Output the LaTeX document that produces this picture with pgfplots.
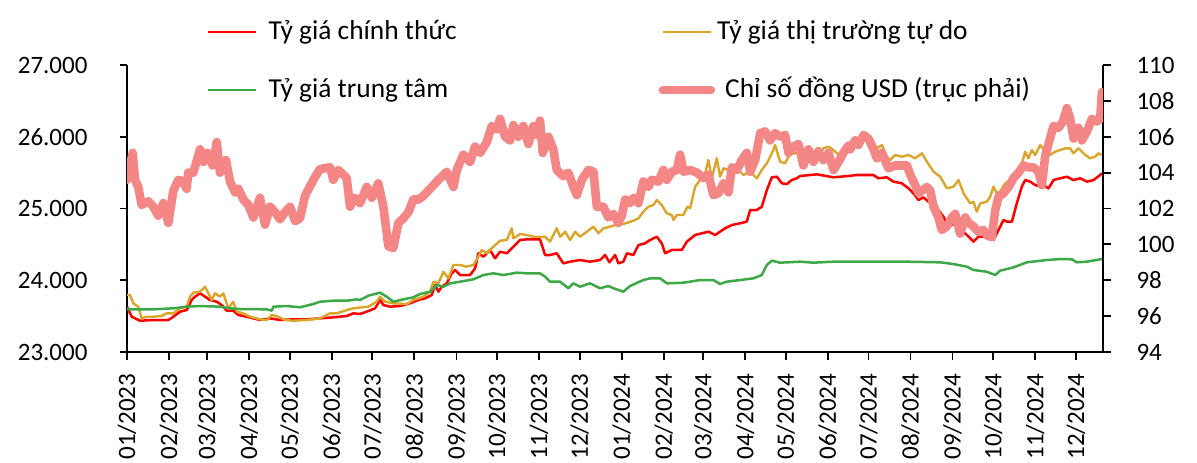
\documentclass[border=0pt]{standalone}
\usepackage{fontspec}
\setmainfont{Carlito}
\usepackage{pgfplots}
\pgfplotsset{compat=1.18}
\definecolor{cRed}{RGB}{255,0,0}
\definecolor{cGold}{RGB}{218,165,40}
\definecolor{cGreen}{RGB}{60,168,70}
\definecolor{cPink}{RGB}{244,134,134}
\begin{document}
\begin{tikzpicture}
\pgfplotsset{
  base/.style={scale only axis, width=488pt, height=143.5pt, xmin=0, xmax=720,
    tick align=outside, major tick length=3.75pt,
    every tick/.style={black, line width=0.9pt},
    axis line style={black, line width=1pt},
    tick label style={font=\fontsize{12.5}{15}\selectfont, inner sep=0pt},
    scaled y ticks=false,
  },
}
\begin{axis}[base, name=main, ymin=23000, ymax=27000,
  axis x line*=bottom, axis y line*=left,
  xtick={0,31,59,90,120,151,181,212,243,273,304,334,365,396,425,456,486,517,547,578,609,639,670,700},
  xticklabels={01/2023,02/2023,03/2023,04/2023,05/2023,06/2023,07/2023,08/2023,09/2023,10/2023,11/2023,12/2023,01/2024,02/2024,03/2024,04/2024,05/2024,06/2024,07/2024,08/2024,09/2024,10/2024,11/2024,12/2024},
  xticklabel style={rotate=90, anchor=east},
  xticklabel shift=7pt,
  ytick={23000,24000,25000,26000,27000},
  yticklabels={23.000,24.000,25.000,26.000,27.000},
  yticklabel shift=15.8pt,
  ]
\addplot[cRed, line width=1.25pt, line join=round] coordinates {
(0,23631) (3.5,23492) (9.6,23436) (19.4,23446) (30.5,23446) (34.2,23492) (39.1,23562) (44,23585) (47.7,23725) (50.2,23771) (53.9,23818) (57.6,23771) (61.2,23725) (66.2,23701) (69.9,23655) (73.6,23576) (78.4,23576) (82.1,23516) (88.3,23492) (98.1,23446) (105.5,23469) (112.9,23446) (122.7,23456) (132.6,23456) (142.4,23469) (152.2,23483) (162.1,23502) (167,23539) (171.9,23530) (178,23570) (183,23609) (186.7,23725) (189.1,23655) (194.1,23632) (201.4,23641) (208.8,23679) (214.9,23725) (219.9,23748) (224.8,23794) (227.3,23934) (229.7,23841) (232.2,23910) (235.9,23957) (239.6,24097) (242,24143) (245.7,24073) (253.1,24073) (256.8,24167) (259.2,24376) (262.9,24329) (267.8,24422) (271.5,24306) (275.2,24398) (280.2,24376) (285,24468) (290,24561) (294.9,24570) (304.7,24570) (308.4,24352) (312.1,24352) (317,24376) (321.9,24236) (326.9,24259) (334.2,24282) (341.6,24259) (349,24282) (352.7,24352) (355.9,24250) (360.1,24352) (362.5,24236) (366.2,24259) (368.7,24376) (373.6,24352) (377.3,24491) (382.2,24515) (385.9,24561) (390.8,24607) (394.5,24515) (397,24376) (401.9,24422) (409.3,24422) (413,24538) (419.1,24631) (424,24654) (428.9,24677) (433.9,24631) (437.5,24677) (441.2,24724) (446.2,24770) (452.3,24794) (457.2,24817) (459.7,24979) (464.6,24979) (468.3,25025) (472,25258) (475.7,25435) (479.4,25443) (483.1,25351) (486.8,25341) (490.4,25397) (494.1,25421) (496.6,25453) (508.9,25476) (521.1,25435) (526.1,25443) (532.2,25453) (538.4,25467) (550.6,25467) (554.3,25421) (560.5,25435) (565.4,25374) (571.6,25351) (576.5,25281) (580.2,25211) (583.9,25118) (587.5,25156) (591.2,25095) (594.9,25118) (598.6,24979) (602.3,24886) (606,24746) (610.9,24794) (614.6,24654) (618.3,24654) (622,24585) (624.4,24538) (628.1,24607) (631.8,24607) (635.5,24631) (639.2,24561) (642.9,24700) (646.6,24840) (649.1,24817) (652.8,24817) (656.4,25072) (660.1,25304) (662.6,25397) (666.3,25374) (670,25328) (673.7,25304) (676.1,25328) (679.8,25281) (683.5,25397) (688.4,25421) (693.4,25443) (698.2,25397) (703.2,25421) (708.1,25374) (713,25397) (717.9,25467) (719.2,25490)
};
\addplot[cGold, line width=1.2pt, line join=round] coordinates {
(0,23794) (2.2,23794) (4.6,23679) (8.3,23632) (10.8,23469) (14.5,23492) (19.4,23492) (25.6,23502) (29.3,23539) (34.2,23539) (39.1,23609) (44,23632) (46.5,23771) (48.9,23827) (53.9,23841) (57.6,23910) (60,23818) (62.5,23725) (64.9,23818) (68.6,23771) (71.1,23818) (74.7,23609) (78.4,23701) (80.9,23562) (85.8,23539) (90.8,23492) (98.1,23456) (103.1,23446) (106.8,23516) (111.6,23492) (116.6,23446) (122.7,23436) (132.6,23446) (142.4,23469) (149.8,23539) (154.7,23539) (162.1,23585) (167,23609) (171.9,23620) (178,23632) (184.2,23701) (186.7,23771) (190.4,23701) (196.5,23679) (206.4,23669) (211.2,23725) (218.6,23771) (223.6,23841) (226,23980) (229.7,23957) (233.4,24119) (237.1,24027) (240.8,24213) (245.7,24213) (250.6,24189) (255.5,24213) (259.2,24329) (261.7,24422) (265.4,24376) (270.3,24468) (275.2,24551) (280.2,24561) (283.8,24724) (285,24584) (290,24645) (294.9,24631) (299.8,24607) (308.4,24607) (312.1,24538) (317,24724) (319.5,24607) (323.2,24677) (326.9,24561) (330.6,24677) (334.2,24607) (339.2,24677) (344.1,24747) (347.8,24654) (351.4,24724) (355.1,24740) (360.1,24770) (366.2,24784) (373.6,24830) (377.3,24863) (380.9,24956) (384.6,25025) (388.3,25049) (390.8,25118) (394.5,25049) (398.2,24933) (401.9,24909) (403.1,24840) (405.6,24909) (410.5,24909) (413.4,25025) (415.4,25003) (419.1,25304) (422.8,25397) (426.5,25490) (428.9,25676) (431.4,25421) (435.1,25700) (437.5,25443) (440,25560) (443.7,25537) (447.4,25560) (452.3,25513) (454.8,25467) (459.7,25513) (464.6,25421) (468.3,25537) (472,25630) (475.7,25769) (478.1,25885) (481.8,25652) (485.5,25630) (489.2,25769) (494.1,25769) (499,25746) (502.7,25815) (506.4,25700) (510.1,25769) (513.8,25839) (517.5,25862) (521.1,25815) (525,25750) (528.5,25769) (533.5,25909) (539.6,25932) (545.8,26002) (549.5,25955) (553.2,25839) (556.9,25885) (560.5,25722) (563,25676) (566.7,25746) (571.6,25722) (576.5,25746) (581.4,25700) (586.4,25769) (590.1,25652) (595,25513) (599.9,25443) (604.8,25281) (609.7,25304) (613.4,25397) (617.1,25211) (622,25072) (624.4,25095) (626.9,24956) (629.4,25072) (634.3,25095) (636.8,25165) (639.2,25304) (641.7,25211) (644.1,25234) (647.8,25351) (651.5,25397) (655.2,25421) (658.9,25537) (662.6,25792) (665,25700) (667.5,25815) (670,25746) (673.7,25885) (677.3,25792) (681,25746) (684.7,25792) (688.4,25815) (692.1,25839) (695.8,25839) (698.2,25769) (701.9,25839) (706.9,25746) (710.5,25700) (714.2,25722) (716.7,25769) (719.2,25746)
};
\addplot[cGreen, line width=1.25pt, line join=round] coordinates {
(0,23595) (19.4,23595) (34.2,23609) (44,23632) (53.9,23641) (68.6,23632) (76,23609) (83.4,23599) (103.1,23595) (106.8,23576) (108,23632) (117.8,23641) (127.6,23623) (137.5,23669) (142.4,23701) (152.2,23715) (162.1,23715) (169.5,23734) (171.9,23725) (178,23785) (186.7,23827) (191.6,23771) (196.5,23701) (203.9,23734) (211.2,23762) (216.1,23808) (223.6,23841) (228.5,23934) (233.4,23910) (238.4,23957) (245.7,23980) (255.5,24013) (262.9,24073) (270.3,24097) (277.7,24073) (287.5,24106) (294.9,24097) (304.7,24097) (308.4,24050) (312.1,23980) (319.5,23980) (325.6,23888) (329.3,23957) (334.2,23910) (341.6,23957) (349,23888) (355.1,23920) (358.9,23888) (366.2,23841) (371.1,23920) (380.9,24003) (385.9,24027) (393.3,24027) (398.2,23957) (410.5,23966) (422.8,24003) (432.6,24003) (437.5,23948) (442.5,23980) (452.3,24003) (462.1,24027) (468.3,24073) (472,24213) (475.7,24273) (481.8,24245) (496.6,24259) (506.4,24245) (521.1,24259) (532.2,24259) (550.6,24259) (575.3,24259) (599.9,24250) (609.7,24226) (619.6,24189) (624.4,24143) (634.3,24119) (640.5,24073) (644.1,24133) (654,24180) (663.8,24250) (678.6,24282) (688.4,24296) (697,24292) (700.7,24250) (708.1,24259) (719.2,24296)
};
\end{axis}
\begin{axis}[base, ymin=94, ymax=110,
  axis y line*=right, axis x line=none,
  ytick={94,96,98,100,102,104,106,108,110},
  yticklabels={94,96,98,100,102,104,106,108,110},
  yticklabel shift=12.8pt,
  legend columns=2,
  legend cell align=left,
  legend image code/.code={\draw[#1] (0pt,0pt) -- (24pt,0pt);},
  legend style={draw=none, fill=none, inner sep=0pt, outer sep=0pt,
    at={(axis description cs:0.082,1.16)}, anchor=north west,
    font=\fontsize{13.7}{16}\selectfont, row sep=16pt,
    nodes={inner sep=0pt, text height=10pt, text depth=3pt},
    /tikz/column 1/.append style={column sep=5.5pt},
    /tikz/column 3/.append style={column sep=1pt}},
  ]
\addlegendimage{cRed, line width=1.25pt}
\addlegendentry{\makebox[195pt][l]{Tỷ giá chính thức}}
\addlegendimage{cGold, line width=1.2pt}
\addlegendentry{Tỷ giá thị trường tự do}
\addlegendimage{cGreen, line width=1.25pt}
\addlegendentry{\makebox[195pt][l]{Tỷ giá trung tâm}}
\addplot[cPink, line width=4.3pt, line join=round, line cap=round] coordinates {
(0,103.6) (4.2,105.1) (5.9,103.6) (8.3,103.2) (10.8,102.2) (15.7,102.4) (19.4,102.1) (23.1,101.6) (26.8,102.3) (30.5,101.2) (34.2,103.0) (37.9,103.6) (41.5,103.5) (44,103.1) (45.2,104.0) (48.9,104.0) (53.9,105.3) (56.3,104.6) (59.2,105.1) (63.2,104.4) (66.2,105.7) (68.6,104.0) (73,104.7) (76,103.5) (79.7,102.9) (82.1,103.1) (85.8,102.5) (89.5,102.2) (93.2,101.5) (98.1,102.6) (101.8,101.1) (105.5,102.1) (109.2,101.8) (112.9,101.4) (116.6,101.8) (120.3,102.1) (124,101.3) (127.6,101.45) (131.3,102.7) (137.5,103.6) (142.4,104.2) (149.8,104.3) (152.2,103.6) (155.9,104.15) (162.1,103.7) (164.5,102.1) (168.2,102.6) (171.9,102.3) (176.9,103.2) (180.6,102.6) (185.4,103.4) (189.1,102.1) (192.8,99.9) (196.5,99.8) (200.2,101.2) (203.9,101.45) (207.6,101.8) (211.2,102.5) (214.9,102.5) (218.6,102.7) (223.6,103.1) (228.5,103.5) (235.9,104.05) (240.8,103.2) (243.3,104.15) (248.1,105.0) (253.1,104.6) (256.8,105.45) (260.5,105.1) (265.4,105.7) (269.1,106.6) (272.8,106.4) (275.2,107.0) (278.9,106.0) (282.6,105.8) (285,106.65) (288.7,106.0) (292.4,106.6) (296.1,105.6) (299.8,106.6) (302.3,106.1) (304.7,106.9) (306.7,105.1) (310.9,106.0) (314.5,105.3) (317,104.15) (321.9,103.8) (325.6,104.0) (329.3,103.2) (331.8,102.75) (335.5,103.6) (340.4,104.15) (344.1,104.05) (346.6,102.1) (351.4,102.1) (355.1,101.5) (358.8,101.7) (362.5,101.2) (365,101.6) (367.5,102.5) (371.1,102.3) (373.6,102.6) (377.3,102.3) (380.9,103.5) (384.6,103.2) (387.1,103.6) (392,103.5) (395.7,104.15) (398.2,103.6) (401.9,104.05) (405.6,104.15) (408,105.0) (410.5,104.05) (415.4,104.15) (420.4,104.0) (425.2,103.7) (428.9,103.9) (432.6,102.75) (436.3,102.85) (440,103.4) (443.7,102.9) (446.2,104.3) (449.9,104.15) (453.5,104.7) (457.2,105.1) (459.7,104.05) (463.4,104.7) (467.1,106.2) (470.8,106.3) (474.4,105.8) (478.1,106.2) (481.8,106.0) (485.5,106.1) (488,105.1) (491.7,105.45) (495.3,105.6) (499,104.4) (502.7,105.3) (506.4,104.6) (510.1,105.2) (513.8,104.7) (517.5,105.1) (521.2,104.15) (524.9,104.6) (528.5,105.1) (532.2,105.5) (533.5,105.3) (537.2,105.8) (539.6,105.55) (543.3,106.1) (547,105.9) (550.7,105.3) (553.2,104.8) (556.9,105.1) (561.7,104.25) (566.7,104.4) (571.6,104.4) (575.3,104.4) (577.7,103.9) (581.4,103.3) (583.9,102.85) (586.4,103.0) (590.1,103.2) (592.5,103.0) (595,102.1) (598.6,101.5) (601.1,100.8) (604.8,101.0) (608.5,101.5) (611,101.7) (614.6,100.6) (618.3,101.5) (620.8,101.2) (624.5,101.0) (628.1,100.7) (631.8,100.8) (634.3,100.5) (638,100.4) (640.5,101.9) (642.9,102.65) (646.6,102.85) (650.3,103.2) (654,103.7) (657.7,104.0) (661.4,104.4) (665,104.3) (668.7,104.3) (672.4,104.05) (674.9,103.3) (677.3,104.9) (679.8,105.6) (683.5,106.6) (687.2,106.5) (690.4,106.85) (693.4,107.6) (695.8,107.0) (698.3,105.9) (701.9,106.5) (704.4,105.8) (708.1,106.3) (711.8,107.0) (715.5,106.85) (717.9,107.0) (719.2,108.5)
};
\addlegendentry{\hspace{4pt}Chỉ số đồng USD (trục phải)}
\end{axis}
\pgfresetboundingbox
\path[use as bounding box] ([xshift=-63.5pt,yshift=-55pt]main.south west) rectangle ([xshift=47pt,yshift=32.5pt]main.north east);
\end{tikzpicture}
\end{document}
